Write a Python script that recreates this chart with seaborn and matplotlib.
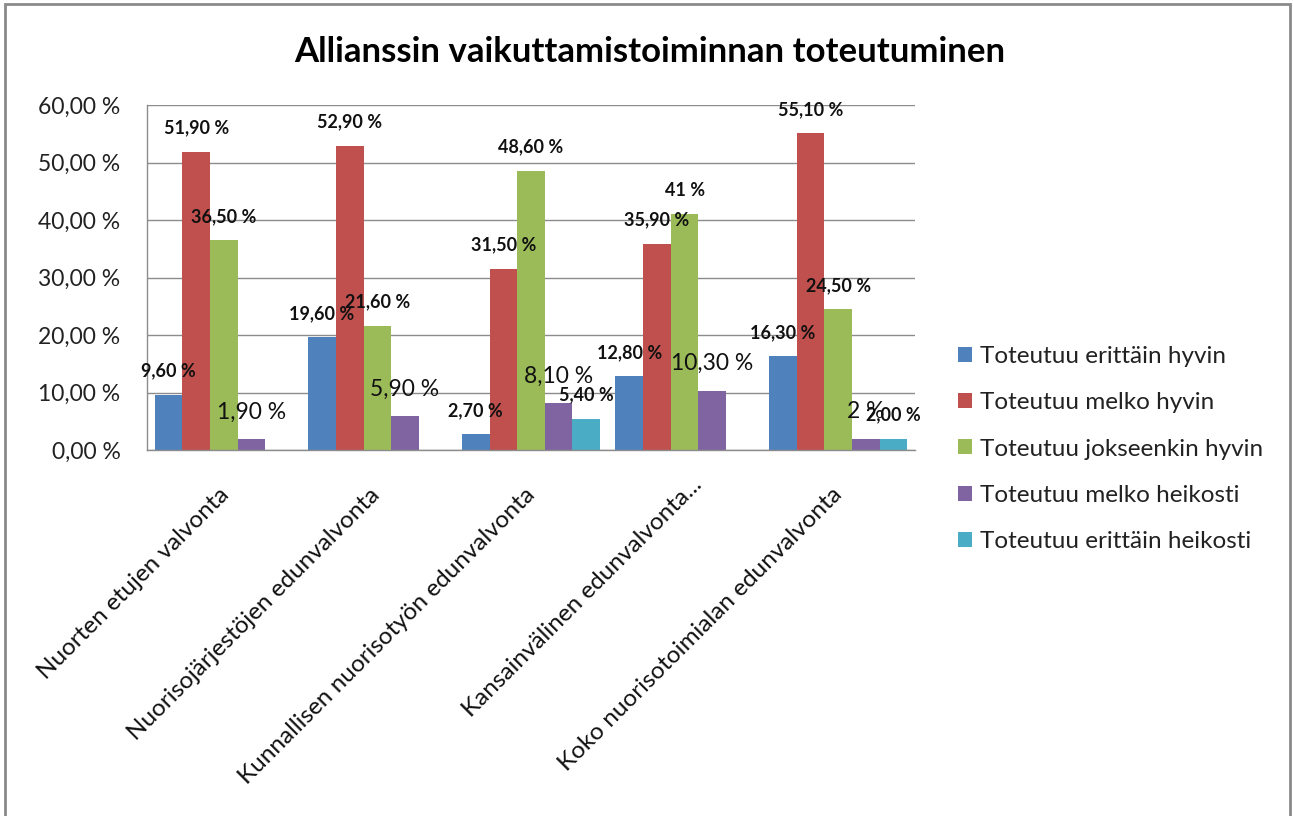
import matplotlib
matplotlib.use("Agg")
import matplotlib.pyplot as plt
import matplotlib.transforms as mtransforms
from matplotlib.patches import Rectangle
import seaborn as sns
import pandas as pd

categories = [
    "Nuorten etujen valvonta",
    "Nuorisojärjestöjen edunvalvonta",
    "Kunnallisen nuorisotyön edunvalvonta",
    "Kansainvälinen edunvalvonta...",
    "Koko nuorisotoimialan edunvalvonta",
]
series = [
    "Toteutuu erittäin hyvin",
    "Toteutuu melko hyvin",
    "Toteutuu jokseenkin hyvin",
    "Toteutuu melko heikosti",
    "Toteutuu erittäin heikosti",
]
erittain_hyvin = [9.6, 19.6, 2.7, 12.8, 16.3]
melko_hyvin = [51.9, 52.9, 31.5, 35.9, 55.1]
jokseenkin_hyvin = [36.5, 21.6, 48.6, 41.0, 24.5]
melko_heikosti = [1.9, 5.9, 8.1, 10.3, 2.0]
erittain_heikosti = [0.0, 0.0, 5.4, 0.0, 2.0]

labels_erittain_hyvin = ["9,60 %", "19,60 %", "2,70 %", "12,80 %", "16,30 %"]
labels_melko_hyvin = ["51,90 %", "52,90 %", "31,50 %", "35,90 %", "55,10 %"]
labels_jokseenkin_hyvin = ["36,50 %", "21,60 %", "48,60 %", "41 %", "24,50 %"]
labels_melko_heikosti = ["1,90 %", "5,90 %", "8,10 %", "10,30 %", "2 %"]
labels_erittain_heikosti = ["", "", "5,40 %", "", "2,00 %"]

yticks = [0, 10, 20, 30, 40, 50, 60]
ytick_labels = ["0,00 %", "10,00 %", "20,00 %", "30,00 %", "40,00 %", "50,00 %", "60,00 %"]

colors = ["#4F81BD", "#C0504D", "#9BBB59", "#8064A2", "#4BACC6"]

values = [erittain_hyvin, melko_hyvin, jokseenkin_hyvin, melko_heikosti, erittain_heikosti]
label_sets = [labels_erittain_hyvin, labels_melko_hyvin, labels_jokseenkin_hyvin,
              labels_melko_heikosti, labels_erittain_heikosti]

rows = []
for s, vals in zip(series, values):
    for c, v in zip(categories, vals):
        rows.append({"Kategoria": c, "Sarja": s, "Arvo": v})
df = pd.DataFrame(rows)

sns.set_style("white")
plt.rcParams["font.family"] = ["Lato", "DejaVu Sans"]

fig = plt.figure(figsize=(12.93, 8.16), dpi=100)
ax = fig.add_axes([147 / 1293, 1 - 450 / 816, (915 - 147) / 1293, (450 - 105) / 816])

sns.barplot(data=df, x="Kategoria", y="Arvo", hue="Sarja", palette=colors,
            saturation=1, width=0.9, errorbar=None, linewidth=0, ax=ax, legend=True)

ax.set_ylim(0, 60)
ax.set_yticks(yticks)
ax.set_yticklabels(ytick_labels, fontsize=16.5, color="#222222")
ax.set_xlabel("")
ax.set_ylabel("")
ax.yaxis.grid(True, color="#8c8c8c", linewidth=1)
ax.set_axisbelow(True)
for side in ["top", "right"]:
    ax.spines[side].set_visible(False)
for side in ["left", "bottom"]:
    ax.spines[side].set_color("#8c8c8c")
    ax.spines[side].set_linewidth(1)
ax.tick_params(axis="y", length=0, pad=19)
ax.tick_params(axis="x", length=0, pad=0)

# data labels
for i, (cont, labs) in enumerate(zip(ax.containers, label_sets)):
    if i == 3:
        ax.bar_label(cont, labels=labs, padding=12, fontsize=16.5, color="#111111")
    else:
        ax.bar_label(cont, labels=labs, padding=11, fontsize=13, fontweight="bold",
                     color="#111111")

# x category labels (rotated, placed per category like the original)
ax.set_xticks(range(len(categories)))
ax.set_xticklabels([""] * len(categories))
x_offsets = [(7, 46), (4, 46), (5, 46), (19, 36), (5, 46)]
for i, (cat, (dx, dy)) in enumerate(zip(categories, x_offsets)):
    tr = ax.get_xaxis_transform() + mtransforms.ScaledTranslation(
        dx / 100, -dy / 100, fig.dpi_scale_trans)
    ax.text(i, 0, cat, transform=tr, rotation=45, ha="right", va="baseline",
            rotation_mode="anchor", fontsize=17.5, color="#111111")

# legend
handles, leg_labels = ax.get_legend_handles_labels()
ax.get_legend().remove()
fig.legend(handles, leg_labels, loc="center left",
           bbox_to_anchor=(958 / 1293, 1 - 449 / 816), frameon=False,
           borderaxespad=0, borderpad=0,
           fontsize=17.5, labelcolor="#222222", handlelength=0.58, handleheight=0.58,
           handletextpad=0.33, labelspacing=1.04)

fig.text(650 / 1293, 1 - 52 / 816, "Allianssin vaikuttamistoiminnan toteutuminen",
         ha="center", va="center", fontsize=25, fontweight="bold", color="#000000")

fig.patches.append(Rectangle((5 / 1293, -0.01), 1285 / 1293, 1 - 4 / 816 + 0.01,
                             transform=fig.transFigure, fill=False,
                             edgecolor="#8a8a8a", linewidth=2))

fig.savefig("out.png", dpi=100)
